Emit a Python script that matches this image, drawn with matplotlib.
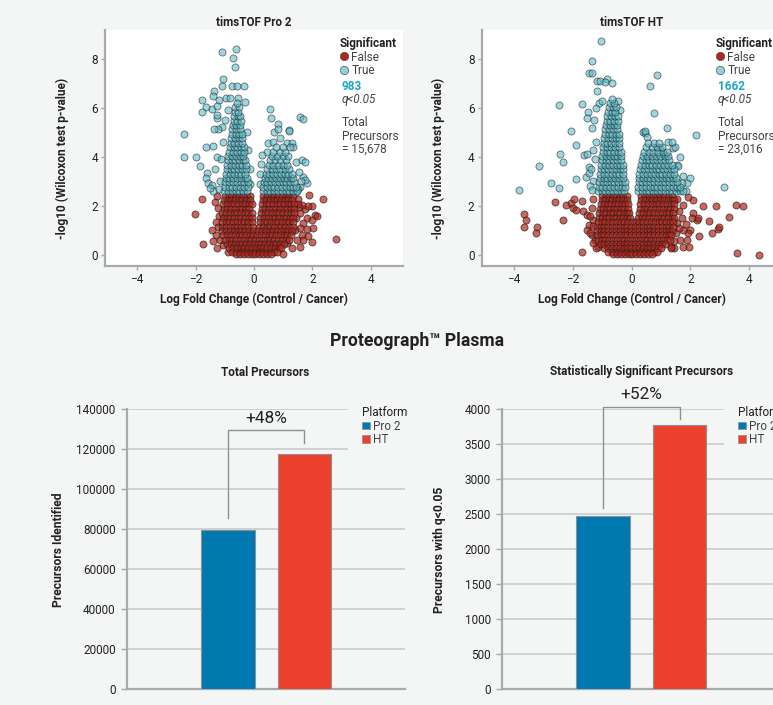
import numpy as np
import matplotlib
matplotlib.use("Agg")
import matplotlib.pyplot as plt
from matplotlib.lines import Line2D
from matplotlib.patches import Patch, Rectangle

plt.rcParams['font.family'] = ['Roboto', 'DejaVu Sans']

BG = '#f4f5f5'
TXT = '#222222'
SPINE = '#a6aaad'
GRID = '#c9cccd'
RED_PT = '#b3251a'
TEAL_PT = '#5cbccb'
BLUE = '#0079b1'
RED = '#ee412d'

# ---- bar data ----
platforms = ['Pro 2', 'HT']
total_precursors = [79400, 117500]
sig_precursors = [2470, 3765]

# ---- volcano data (dense cores listed row by row) ----
# timsTOF Pro 2
pro2_false_rows = {
    2.42: [-1.00, -0.87, -0.75, -0.62, -0.50, -0.38, -0.25, -0.13, 0.32, 0.45, 0.57, 0.70, 0.82, 0.95, 1.08, 1.20, 1.33],
    2.24: [-1.02, -0.90, -0.78, -0.65, -0.52, -0.40, -0.27, -0.14, 0.30, 0.42, 0.55, 0.68, 0.80, 0.93, 1.05, 1.18, 1.31],
    2.06: [-1.05, -0.92, -0.80, -0.67, -0.55, -0.42, -0.30, -0.18, -0.08, 0.28, 0.40, 0.52, 0.65, 0.78, 0.90, 1.03, 1.15, 1.28, 1.37],
    1.88: [-1.04, -0.91, -0.79, -0.66, -0.53, -0.41, -0.28, -0.16, 0.26, 0.39, 0.51, 0.64, 0.77, 0.89, 1.02, 1.14, 1.27, 1.38],
    1.70: [-1.08, -0.95, -0.83, -0.70, -0.57, -0.44, -0.32, -0.19, -0.08, 0.24, 0.36, 0.49, 0.62, 0.74, 0.87, 1.00, 1.12, 1.25, 1.37],
    1.52: [-1.07, -0.94, -0.81, -0.69, -0.56, -0.43, -0.31, -0.18, -0.06, 0.22, 0.34, 0.47, 0.60, 0.72, 0.85, 0.98, 1.10, 1.23, 1.35],
    1.34: [-1.10, -0.97, -0.84, -0.72, -0.59, -0.46, -0.33, -0.20, -0.07, 0.20, 0.33, 0.45, 0.58, 0.71, 0.83, 0.96, 1.09, 1.21, 1.34],
    1.16: [-1.09, -0.96, -0.83, -0.70, -0.58, -0.45, -0.32, -0.19, -0.05, 0.18, 0.31, 0.43, 0.56, 0.69, 0.81, 0.94, 1.07, 1.19, 1.32],
    0.98: [-1.08, -0.95, -0.82, -0.69, -0.56, -0.43, -0.30, -0.17, -0.04, 0.15, 0.28, 0.41, 0.54, 0.66, 0.79, 0.92, 1.05, 1.17, 1.29],
    0.80: [-1.05, -0.92, -0.79, -0.66, -0.53, -0.40, -0.27, -0.14, -0.02, 0.11, 0.24, 0.37, 0.50, 0.63, 0.76, 0.89, 1.01, 1.14, 1.27],
    0.62: [-1.00, -0.87, -0.74, -0.61, -0.48, -0.35, -0.22, -0.09, 0.04, 0.17, 0.30, 0.43, 0.56, 0.69, 0.82, 0.95, 1.08, 1.21],
    0.44: [-0.92, -0.79, -0.66, -0.53, -0.40, -0.27, -0.14, -0.01, 0.12, 0.25, 0.38, 0.51, 0.64, 0.77, 0.90, 1.04],
    0.28: [-0.85, -0.72, -0.59, -0.46, -0.33, -0.20, -0.07, 0.06, 0.19, 0.32, 0.45, 0.58, 0.71, 0.84, 0.93],
    0.14: [-0.75, -0.62, -0.49, -0.36, -0.23, -0.10, 0.03, 0.16, 0.29, 0.42, 0.55, 0.68, 0.78],
    0.03: [-0.60, -0.47, -0.34, -0.21, -0.08, 0.05, 0.18, 0.31, 0.44, 0.58],
}
pro2_false_x = [-1.77, -2.01, -1.76, -1.34, -1.22, -1.30, -1.22, -1.30, -1.16, -1.05, -0.88, -1.25, -1.20, -1.45, -1.40, -1.25,
                2.37, 1.89, 1.98, 2.09, 1.80, 1.98, 1.69, 1.58, 1.80, 2.03, 1.63, 1.86, 1.69, 1.98, 1.58, 1.40, 1.46, 1.29,
                1.73, 1.66, 1.58, 1.86, 2.15, 2.80, 1.50, 1.55, 1.45, 1.50, 1.12, 1.00]
pro2_false_y = [2.29, 1.66, 0.44, 2.15, 1.91, 1.36, 1.13, 0.82, 0.61, 0.41, 0.14, 2.40, 1.60, 1.00, 0.55, 0.30,
                2.29, 2.44, 1.99, 1.63, 1.50, 1.43, 1.29, 1.09, 1.05, 1.12, 0.82, 0.78, 0.61, 0.54, 0.34, 1.00, 0.61, 0.29,
                1.88, 2.04, 1.72, 2.00, 1.57, 0.64, 2.30, 1.95, 1.50, 2.10, 0.50, 0.05]
pro2_true_rows = {
    2.60: [-1.02, -0.89, -0.76, -0.63, -0.50, -0.37, -0.24, 0.30, 0.43, 0.56, 0.69, 0.82, 0.95, 1.08, 1.21, 1.34, 1.48],
    2.78: [-1.00, -0.87, -0.74, -0.61, -0.48, -0.35, -0.22, 0.31, 0.44, 0.57, 0.70, 0.83, 0.96, 1.09, 1.22, 1.35, 1.45],
    2.96: [-0.98, -0.85, -0.72, -0.59, -0.46, -0.33, -0.21, 0.33, 0.46, 0.59, 0.72, 0.85, 0.98, 1.11, 1.24, 1.38],
    3.14: [-0.97, -0.84, -0.71, -0.58, -0.45, -0.32, -0.23, 0.36, 0.49, 0.62, 0.75, 0.88, 1.01, 1.14, 1.27, 1.35],
    3.32: [-0.95, -0.82, -0.69, -0.56, -0.43, -0.30, 0.40, 0.53, 0.66, 0.79, 0.92, 1.05, 1.18, 1.30],
    3.50: [-0.93, -0.80, -0.67, -0.54, -0.41, -0.28, 0.45, 0.60, 0.75, 0.90, 1.05, 1.20],
    3.68: [-0.92, -0.79, -0.66, -0.53, -0.40, -0.29, 0.50, 0.66, 0.82, 0.98, 1.14],
    3.86: [-0.90, -0.77, -0.64, -0.51, -0.38, -0.30, 0.55, 0.72, 0.90, 1.08],
    4.04: [-0.88, -0.75, -0.62, -0.49, -0.36, 0.60, 0.80, 1.00, 1.15],
    4.22: [-0.85, -0.72, -0.59, -0.46, -0.34, 0.66, 0.88, 1.06],
    4.40: [-0.83, -0.70, -0.57, -0.44, -0.35, 0.75, 1.00, 1.22],
    4.58: [-0.80, -0.67, -0.54, -0.41],
    4.76: [-0.78, -0.65, -0.52, -0.40],
    4.94: [-0.76, -0.63, -0.50, -0.40],
    5.12: [-0.74, -0.61, -0.48],
    5.30: [-0.72, -0.60, -0.47],
    5.48: [-0.70, -0.58, -0.46],
    5.66: [-0.68, -0.56, -0.47],
    5.84: [-0.66, -0.55],
    6.02: [-0.64, -0.52],
    6.20: [-0.58],
}
pro2_true_x = [-1.11, -0.63, -0.71, -0.66, -1.05, -1.09, -0.74, -0.59, -0.33, -1.36, -1.42, -1.79, -1.20, -1.66, -1.78, -1.44,
               -1.28, -0.97, -0.82, -0.54, -0.32, -2.41, -2.40, -1.99, -1.85, 0.56, 0.58, 0.82, 1.58, 1.67, 0.69, 0.81,
               1.19, 1.21, 0.43, 0.29, 0.49, 0.66, 0.89, 1.12, 1.29, 1.35, 1.43, 1.66, 1.73, 1.67, 1.81, 1.75, 1.58, 1.44,
               -1.66, -1.42, -1.62, -1.66, -1.57, -1.45, -1.39, -1.51, -1.33, -1.26, -1.11, -1.22, -1.37, -1.26, -1.28,
               -1.15, -1.20, -1.12, -1.05, -0.98, -0.90, -0.25, -0.20, -0.15, -0.12, 0.20, 0.22, 0.25, 1.55, 1.60, 1.50]
pro2_true_y = [8.29, 8.42, 8.02, 7.65, 7.20, 6.89, 6.89, 6.89, 6.89, 6.70, 6.49, 6.32, 6.32, 6.05, 5.82, 5.94,
               6.07, 6.39, 6.39, 6.41, 6.26, 4.95, 4.01, 4.01, 3.64, 5.96, 5.57, 5.33, 5.64, 5.56, 5.03, 5.12,
               5.10, 5.07, 4.21, 4.08, 4.55, 4.62, 4.76, 4.55, 4.58, 4.42, 3.80, 3.87, 3.78, 3.19, 2.92, 3.06, 2.79, 2.58,
               4.42, 4.46, 3.33, 3.13, 2.95, 2.85, 2.62, 2.72, 3.49, 4.01, 5.23, 5.16, 5.16, 5.57, 5.70,
               3.00, 2.70, 3.90, 4.60, 5.50, 5.90, 5.00, 4.30, 3.50, 2.90, 2.90, 3.30, 3.70, 3.40, 3.00, 2.70]

# timsTOF HT
ht_false_rows = {
    2.42: [-1.00, -0.88, -0.76, -0.64, -0.52, -0.40, -0.28, -0.17, 0.33, 0.46, 0.59, 0.72, 0.85, 0.98, 1.11, 1.24, 1.37],
    2.24: [-1.02, -0.90, -0.78, -0.66, -0.54, -0.42, -0.30, -0.17, 0.32, 0.45, 0.58, 0.71, 0.84, 0.97, 1.10, 1.23, 1.36, 1.45],
    2.06: [-1.05, -0.93, -0.81, -0.69, -0.57, -0.45, -0.33, -0.21, -0.13, 0.30, 0.43, 0.56, 0.69, 0.82, 0.95, 1.08, 1.21, 1.34, 1.45],
    1.88: [-1.08, -0.96, -0.84, -0.72, -0.60, -0.48, -0.36, -0.24, -0.12, 0.28, 0.41, 0.54, 0.67, 0.80, 0.93, 1.06, 1.19, 1.32, 1.45],
    1.70: [-1.10, -0.98, -0.86, -0.74, -0.62, -0.50, -0.38, -0.26, -0.14, -0.07, 0.25, 0.38, 0.51, 0.64, 0.77, 0.90, 1.03, 1.16, 1.29, 1.42],
    1.52: [-1.12, -1.00, -0.88, -0.76, -0.64, -0.52, -0.40, -0.28, -0.16, -0.05, 0.21, 0.34, 0.47, 0.60, 0.73, 0.86, 0.99, 1.12, 1.25, 1.38, 1.44],
    1.34: [-1.15, -1.02, -0.89, -0.76, -0.63, -0.50, -0.37, -0.24, -0.11, 0.02, 0.14, 0.27, 0.40, 0.53, 0.66, 0.79, 0.92, 1.05, 1.18, 1.31, 1.42],
    1.16: [-1.18, -1.05, -0.92, -0.79, -0.66, -0.53, -0.40, -0.27, -0.14, -0.01, 0.12, 0.25, 0.38, 0.51, 0.64, 0.77, 0.90, 1.03, 1.16, 1.29, 1.40],
    0.98: [-1.18, -1.05, -0.92, -0.79, -0.66, -0.53, -0.40, -0.27, -0.14, -0.01, 0.12, 0.25, 0.38, 0.51, 0.64, 0.77, 0.90, 1.03, 1.16, 1.29, 1.38],
    0.80: [-1.18, -1.05, -0.92, -0.79, -0.66, -0.53, -0.40, -0.27, -0.14, -0.01, 0.12, 0.25, 0.38, 0.51, 0.64, 0.77, 0.90, 1.03, 1.16, 1.28, 1.35],
    0.62: [-1.15, -1.02, -0.89, -0.76, -0.63, -0.50, -0.37, -0.24, -0.11, 0.02, 0.15, 0.28, 0.41, 0.54, 0.67, 0.80, 0.93, 1.06, 1.19, 1.30],
    0.44: [-1.05, -0.92, -0.79, -0.66, -0.53, -0.40, -0.27, -0.14, -0.01, 0.12, 0.25, 0.38, 0.51, 0.64, 0.77, 0.90, 1.03, 1.15],
    0.28: [-0.92, -0.79, -0.66, -0.53, -0.40, -0.27, -0.14, -0.01, 0.12, 0.25, 0.38, 0.51, 0.64, 0.77, 0.90, 1.00],
    0.14: [-0.80, -0.67, -0.54, -0.41, -0.28, -0.15, -0.02, 0.11, 0.24, 0.37, 0.50, 0.63, 0.76, 0.85],
    0.03: [-0.62, -0.49, -0.36, -0.23, -0.10, 0.03, 0.16, 0.29, 0.42, 0.55, 0.68],
}
ht_false_x = [-3.64, -3.58, -3.64, -3.22, -3.24, -2.61, -2.33, -2.24, -2.05, -1.95, -1.99, -1.90, -1.70, -1.65, -1.70,
              -1.53, -1.44, -1.33, -1.25, -1.31, -1.51, -1.14, -1.30, -1.35, -1.40, -1.30, -1.40, -1.30, -1.20,
              2.44, 2.86, 3.56, 3.78, 3.33, 2.95, 2.99, 2.73, 2.31, 2.22, 2.25, 2.65, 2.10, 2.05, 1.99, 1.93, 1.97,
              2.10, 1.93, 1.74, 1.76, 1.65, 1.76, 3.58, 4.32, 1.44, 1.33, 1.55, 1.60, 1.55, 1.50, 1.45, 1.35, 1.60,
              1.85, 1.70, 1.90]
ht_false_y = [1.67, 1.43, 1.13, 1.16, 0.88, 2.17, 1.43, 2.04, 2.13, 2.27, 1.90, 1.83, 2.20, 1.81, 0.14,
              1.02, 1.22, 0.82, 0.61, 1.43, 1.63, 0.34, 2.30, 1.90, 1.60, 1.20, 0.90, 0.50, 0.30,
              2.01, 2.01, 2.04, 2.00, 1.56, 1.05, 1.15, 0.88, 0.77, 1.43, 1.49, 1.40, 1.70, 1.49, 1.02, 0.88, 0.34,
              2.24, 2.38, 2.04, 1.02, 0.61, 0.34, 0.10, 0.00, 0.27, 0.34, 2.30, 1.80, 1.30, 0.90, 0.55, 0.30, 1.10,
              1.25, 1.50, 0.60]
ht_true_rows = {
    2.60: [-1.15, -1.02, -0.89, -0.76, -0.63, -0.50, -0.37, -0.24, 0.22, 0.35, 0.48, 0.61, 0.74, 0.87, 1.00, 1.13, 1.26, 1.39, 1.52, 1.65, 1.76],
    2.78: [-1.12, -0.99, -0.86, -0.73, -0.60, -0.47, -0.34, -0.21, 0.23, 0.36, 0.49, 0.62, 0.75, 0.88, 1.01, 1.14, 1.27, 1.40, 1.53, 1.65],
    2.96: [-1.10, -0.97, -0.84, -0.71, -0.58, -0.45, -0.32, -0.22, 0.24, 0.37, 0.50, 0.63, 0.76, 0.89, 1.02, 1.15, 1.28, 1.41, 1.55],
    3.14: [-1.08, -0.95, -0.82, -0.69, -0.56, -0.43, -0.30, 0.25, 0.38, 0.51, 0.64, 0.77, 0.90, 1.03, 1.16, 1.29, 1.42, 1.52],
    3.32: [-1.06, -0.93, -0.80, -0.67, -0.54, -0.41, -0.28, 0.27, 0.40, 0.53, 0.66, 0.79, 0.92, 1.05, 1.18, 1.31, 1.45],
    3.50: [-1.05, -0.92, -0.79, -0.66, -0.53, -0.40, -0.28, 0.30, 0.43, 0.56, 0.69, 0.82, 0.95, 1.08, 1.21, 1.34, 1.44],
    3.68: [-1.03, -0.90, -0.77, -0.64, -0.51, -0.38, -0.30, 0.32, 0.45, 0.58, 0.71, 0.84, 0.97, 1.10, 1.23, 1.36],
    3.86: [-1.01, -0.88, -0.75, -0.62, -0.49, -0.36, 0.35, 0.48, 0.61, 0.74, 0.87, 1.00, 1.13, 1.26],
    4.04: [-1.00, -0.87, -0.74, -0.61, -0.48, -0.35, 0.38, 0.53, 0.68, 0.83, 0.98, 1.13, 1.25],
    4.22: [-0.98, -0.85, -0.72, -0.59, -0.46, -0.36, 0.42, 0.58, 0.74, 0.90, 1.06, 1.20],
    4.40: [-0.96, -0.83, -0.70, -0.57, -0.44, 0.50, 0.68, 0.86, 1.04],
    4.58: [-0.95, -0.82, -0.69, -0.56, -0.43, 0.56, 0.75, 0.95],
    4.76: [-0.93, -0.80, -0.67, -0.54, -0.42],
    4.94: [-0.91, -0.78, -0.65, -0.52, -0.42],
    5.12: [-0.89, -0.76, -0.63, -0.50],
    5.30: [-0.87, -0.74, -0.61, -0.48],
    5.48: [-0.85, -0.72, -0.59, -0.47],
    5.66: [-0.82, -0.69, -0.56, -0.47],
    5.84: [-0.80, -0.67, -0.55],
    6.02: [-0.76, -0.64, -0.54],
    6.20: [-0.72, -0.60],
    6.38: [-0.66],
}
ht_true_x = [-1.05, -1.34, -1.45, -1.34, -1.16, -1.08, -0.83, -0.91, -0.68, -1.17, 0.88, 0.63, 0.76, 1.19, 2.18,
             -2.47, -1.70, -2.05, -1.88, -2.44, -2.33, -3.15, -2.75, -2.47, -3.84, -1.88, -1.56, 3.13, 1.99, 1.65,
             1.53, 1.58, 1.42, 1.47, 1.25, 1.36, 0.40, 0.45, 0.47, 0.51, 0.97, 1.10, 1.74, 1.88, -1.48, -1.53,
             -1.61, -1.53, -1.44, -1.44, -1.28, -1.35, -1.20, -1.30, -1.25, -1.38, -1.30, -1.42, -1.35, -1.20,
             -1.10, -1.00, -0.45, -0.40, 1.60, 1.70, 1.85]
ht_true_y = [8.72, 7.91, 7.43, 7.43, 7.11, 7.11, 7.20, 7.07, 7.00, 6.70, 7.36, 6.90, 5.80, 5.19, 4.89,
             6.14, 6.18, 5.07, 4.48, 4.14, 3.80, 3.63, 2.95, 2.72, 2.65, 3.10, 3.19, 2.79, 3.13, 4.01,
             3.67, 3.62, 4.35, 4.40, 4.62, 4.62, 5.03, 4.96, 5.06, 4.82, 4.35, 4.14, 3.22, 2.95, 5.84, 5.57,
             4.08, 4.14, 3.60, 3.33, 5.50, 5.20, 4.60, 4.30, 3.90, 3.50, 3.00, 2.80, 2.65, 6.00,
             6.20, 6.30, 6.30, 5.90, 2.70, 2.95, 2.62]

W, H = 773, 705
FS = 8.5


def fx(px):
    return px / W


def fy(py):
    return 1 - py / H


def flatten(rows, xs, ys):
    all_x = list(xs)
    all_y = list(ys)
    for yv, row in rows.items():
        all_x += row
        all_y += [yv] * len(row)
    return all_x, all_y


fig = plt.figure(figsize=(W / 100, H / 100), dpi=100, facecolor=BG)


def volcano(left_px, width_px, title, title_x, false_data, true_data, n_sig, total, legend_x):
    ax = fig.add_axes([fx(left_px), fy(266), width_px / W, 236 / H])
    ax.set_facecolor('white')
    fxs, fys = flatten(*false_data)
    txs, tys = flatten(*true_data)
    ax.scatter(fxs, fys, s=26, c=RED_PT, alpha=0.7, edgecolors='#1a1a1a', linewidths=0.6, zorder=2)
    ax.scatter(txs, tys, s=26, c=TEAL_PT, alpha=0.6, edgecolors='#1a1a1a', linewidths=0.6, zorder=3)
    ax.set_xlim(-5.1, 5.1)
    ax.set_ylim(-0.45, 9.18)
    ax.set_xticks([-4, -2, 0, 2, 4])
    ax.set_yticks([0, 2, 4, 6, 8])
    for s in ['top', 'right']:
        ax.spines[s].set_visible(False)
    for s in ['left', 'bottom']:
        ax.spines[s].set_color(SPINE)
        ax.spines[s].set_linewidth(1.6)
    ax.tick_params(colors=SPINE, labelcolor=TXT, labelsize=FS, length=3, width=1, pad=2)

    fig.text(fx(title_x), fy(22), title, ha='center', va='center', fontsize=8.4, fontweight='bold', color=TXT)
    fig.text(fx(title_x), fy(299), 'Log Fold Change (Control / Cancer)', ha='center', va='center',
             fontsize=8.6, fontweight='bold', color=TXT)
    fig.text(fx(left_px - 43), fy(158), '-log10 (Wilcoxon test p-value)', ha='center', va='center',
             rotation=90, fontsize=8.6, fontweight='bold', color=TXT)

    handles = [Line2D([], [], ls='none', marker='o', markersize=6, markerfacecolor=RED_PT,
                      markeredgecolor='#555555', markeredgewidth=0.5),
               Line2D([], [], ls='none', marker='o', markersize=6, markerfacecolor='#8fd2dc',
                      markeredgecolor='#555555', markeredgewidth=0.5)]
    leg = ax.legend(handles, ['False', 'True'], title='Significant', loc='upper left',
                    bbox_to_anchor=(fx(legend_x - 2), fy(37)), bbox_transform=fig.transFigure,
                    frameon=False, fontsize=FS, handlelength=0.6, handletextpad=0.35,
                    labelspacing=0.05, borderpad=0, borderaxespad=0, alignment='left',
                    title_fontproperties={'weight': 'bold', 'size': FS})
    for t in leg.get_texts():
        t.set_color('#444444')
    leg.get_title().set_color(TXT)

    fig.text(fx(legend_x), fy(87), str(n_sig), ha='left', va='center', fontsize=FS,
             fontweight='bold', color='#1aa6c8')
    fig.text(fx(legend_x), fy(100), 'q<0.05', ha='left', va='center', fontsize=FS,
             style='italic', color='#444444')
    fig.text(fx(legend_x), fy(136), 'Total\nPrecursors\n= ' + total, ha='left', va='center',
             fontsize=FS, color='#444444', linespacing=1.05)
    return ax


volcano(105, 298, 'timsTOF Pro 2', 254, (pro2_false_rows, pro2_false_x, pro2_false_y),
        (pro2_true_rows, pro2_true_x, pro2_true_y), 983, '15,678', 342)
volcano(481.5, 300, 'timsTOF HT', 632, (ht_false_rows, ht_false_x, ht_false_y),
        (ht_true_rows, ht_true_x, ht_true_y), 1662, '23,016', 718)

fig.text(fx(417), fy(341), 'Proteograph\u2122 Plasma', ha='center', va='center', fontsize=12.7,
         fontweight='bold', color=TXT)


def bars(left_px, values, title, title_x, ylabel, ylabel_x, ymax, step, legend_x, offs):
    ax = fig.add_axes([fx(left_px), fy(689), 278 / W, 280 / H])
    ax.set_facecolor(BG)
    x = np.arange(len(values))
    ax.bar(x, values, width=0.7, color=[BLUE, RED], edgecolor='#8b9094', linewidth=0.8, zorder=3)
    ax.set_xlim(-1.32, 2.31)
    ax.set_ylim(0, ymax)
    ax.set_yticks(np.arange(0, ymax + 1, step))
    ax.set_xticks([])
    ax.yaxis.grid(True, color=GRID, lw=1.2)
    ax.set_axisbelow(True)
    for s in ['top', 'right']:
        ax.spines[s].set_visible(False)
    for s in ['left', 'bottom']:
        ax.spines[s].set_color(SPINE)
        ax.spines[s].set_linewidth(1.6)
    ax.tick_params(axis='y', colors=SPINE, labelcolor=TXT, labelsize=FS, length=4, width=1, pad=4)

    # bracket with percent gain
    lo, top, hi, txt_off = offs
    ax.plot([x[0], x[0], x[1], x[1]], [values[0] + lo * ymax, values[1] + top * ymax,
                                       values[1] + top * ymax, values[1] + hi * ymax],
            color='#8d9195', lw=1, clip_on=False, zorder=4)
    gain = round((values[1] / values[0] - 1) * 100)
    ax.text((x[0] + x[1]) / 2, values[1] + txt_off * ymax, '+%d%%' % gain, ha='center',
            va='center', fontsize=12.4, color=TXT)

    fig.text(fx(title_x), fy(372), title, ha='center', va='center', fontsize=8.5, fontweight='bold', color=TXT)
    fig.text(fx(ylabel_x), fy(550), ylabel, ha='center', va='center', rotation=90, fontsize=8.7,
             fontweight='bold', color=TXT)

    # legend area hides the grid behind it
    ax.add_patch(Rectangle((fx(legend_x - 15), fy(475)), 100 / W, 78 / H, transform=fig.transFigure,
                           facecolor=BG, edgecolor='none', zorder=1, clip_on=False))
    handles = [Patch(facecolor=c, edgecolor='#8b9094', linewidth=0.5) for c in [BLUE, RED]]
    leg = ax.legend(handles, platforms, title='Platform', loc='upper left',
                    bbox_to_anchor=(fx(legend_x - 1), fy(406)), bbox_transform=fig.transFigure,
                    frameon=False, fontsize=FS, title_fontsize=FS, handlelength=0.65, handleheight=0.65,
                    handletextpad=0.3, labelspacing=0.05, borderpad=0, borderaxespad=0, alignment='left')
    leg.set_zorder(6)
    for t in leg.get_texts():
        t.set_color('#444444')
    leg.get_title().set_color(TXT)
    return ax


bars(126.7, total_precursors, 'Total Precursors', 265, 'Precursors Identified', 59, 140000, 20000, 363,
     (0.042, 0.084, 0.041, 0.125))
bars(502, sig_precursors, 'Statistically Significant Precursors', 642, 'Precursors with q<0.05', 439, 4000, 500,
     739, (0.029, 0.066, 0.023, 0.112))

fig.savefig('out.png', dpi=100, facecolor=BG)
